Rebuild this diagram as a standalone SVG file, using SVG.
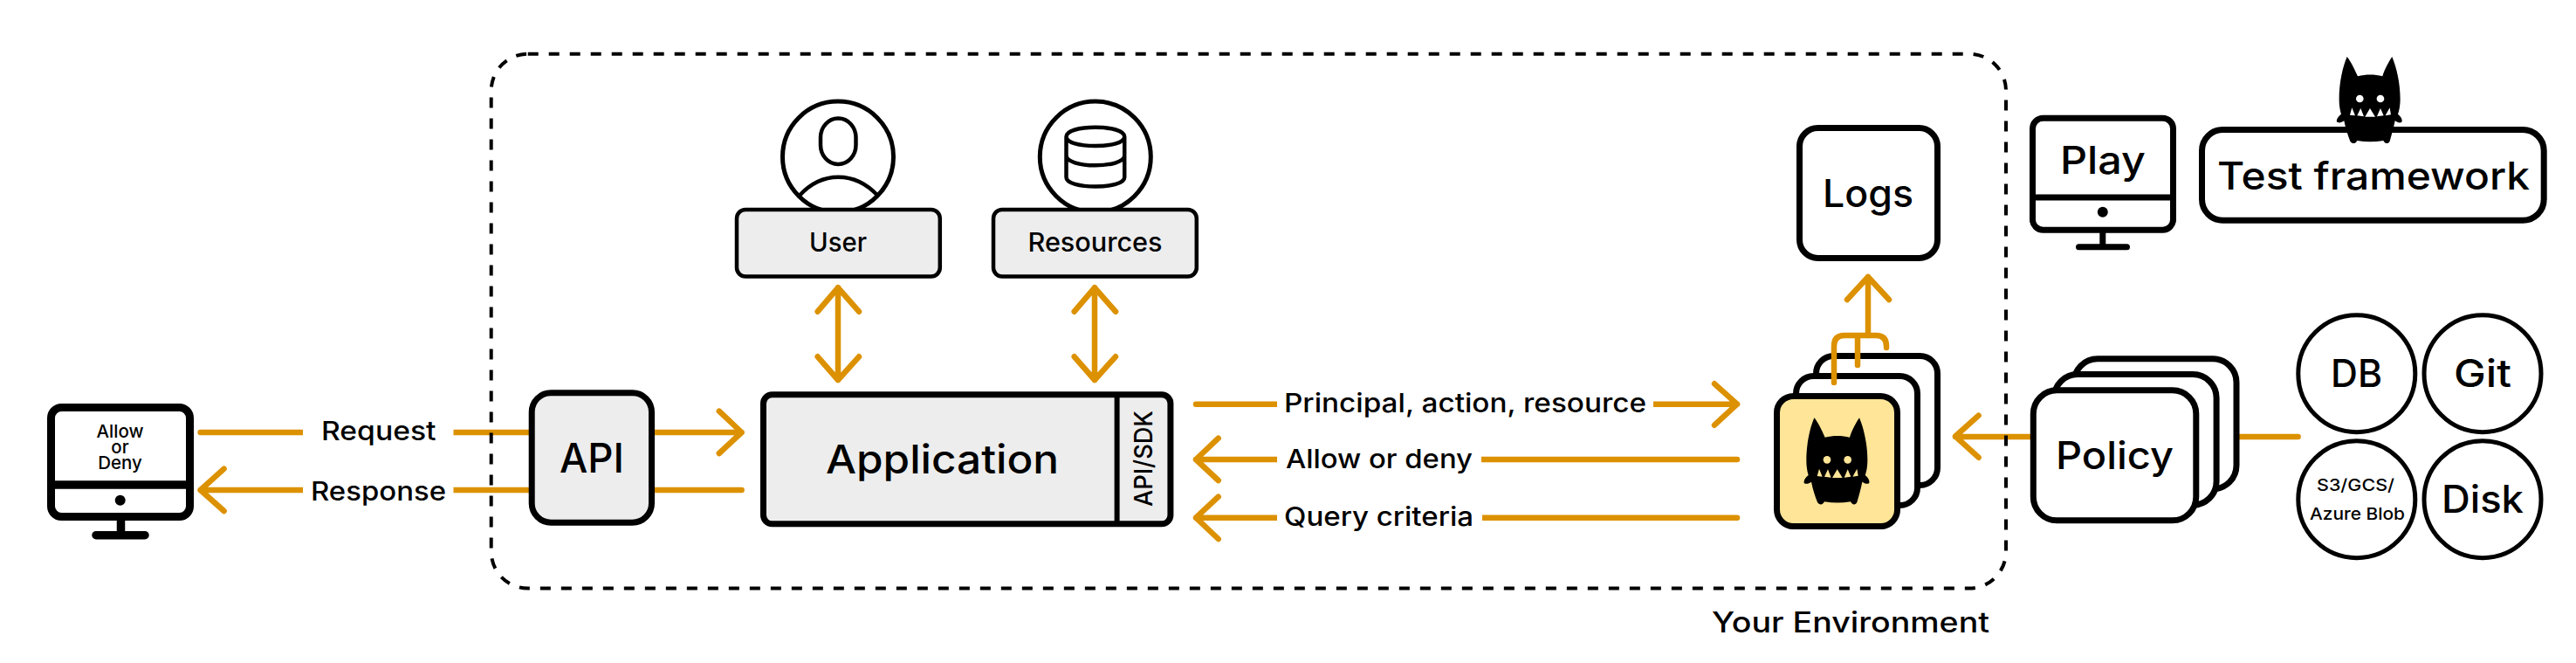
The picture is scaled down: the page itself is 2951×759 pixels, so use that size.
<svg xmlns="http://www.w3.org/2000/svg" xmlns:xlink="http://www.w3.org/1999/xlink" width="2951" height="759" viewBox="0 0 2951 759">
<style>
text{font-family:"Inter","Noto Sans","Liberation Sans",sans-serif;fill:#000;font-weight:500}
.flow{fill:none;stroke:#dc9100;stroke-width:6.5;stroke-linecap:round;stroke-linejoin:round}
.thick{fill:#fff;stroke:#000;stroke-width:7}
.thin{fill:#fff;stroke:#000;stroke-width:4.5}
.ring{fill:#fff;stroke:#000;stroke-width:5}
.grey{fill:#ededed}
.icon{fill:none;stroke:#000;stroke-width:4.5}
.gap{fill:#fff;stroke:none}
.t30{font-size:30px}
.t43{font-size:44px}
</style>
<defs>
<g id="monster-art">
<path fill="#000" d="M175 115C185 125 200 155 212 182C240 175 270 175 297 182C305 155 320 130 330 115C345 150 358 205 358 260C358 280 355 300 350 312C360 320 366 330 364 338C358 345 348 340 340 335C335 360 328 385 322 405C318 415 305 415 300 403C270 408 240 408 210 403C205 415 192 415 186 405C178 385 170 360 165 335C158 340 145 345 140 338C138 330 145 320 155 312C150 295 148 280 148 260C148 205 160 150 175 115Z"/>
<g fill="currentColor">
<circle cx="219" cy="259" r="13"/><circle cx="290" cy="259" r="13"/>
<path d="M185 315L192 290L203 317ZM210 317L222 292L233 320ZM237 321L254 292L272 321ZM278 320L290 292L301 317ZM307 317L322 290L326 314Z"/>
</g>
</g>
</defs>

<rect width="2951" height="759" fill="#fff"/>

<g id="policy-engine">
<rect class="thick" x="2080.5" y="407.5" width="139" height="148" rx="20"/>
<rect class="thick" x="2057.5" y="430.5" width="139" height="148" rx="20"/>
<rect class="thick" x="2035.5" y="453.5" width="138" height="149" rx="19" style="fill:#ffe597"/>
<use xlink:href="#monster-art" href="#monster-art" transform="translate(2020 440) scale(.33333)" color="#ffe597"/>
</g>

<g id="connectors">
<path class="flow" d="M229.6 495H605.6"/>
<path class="flow" d="M605.6 561H229.6M256.6 536.7L229.6 561L256.6 585"/>
<path class="flow" d="M750 495H849.6M823.8 470.7L849.6 495L823.8 519"/>
<path class="flow" d="M750 561H849.6"/>
<path class="flow" d="M960 329.3V435M936.7 356.7L960 329.3L984 356.7M936.7 408.3L960 435L984 408.3"/>
<path class="flow" d="M1254 329.3V435M1230.7 356.7L1254 329.3L1278 356.7M1230.7 408.3L1254 435L1278 408.3"/>
<path class="flow" d="M1370 462.7H1990M1964 439.3L1990 462.7L1964 486.7"/>
<path class="flow" d="M1990 526H1370M1395.7 501.7L1370 526L1395.7 550"/>
<path class="flow" d="M1990 592.7H1370M1395.7 568.7L1370 592.7L1395.7 617"/>
<path class="flow" d="M2140 384V317M2116 343L2140 317L2164 343"/>
<path class="flow" d="M2101 438V396Q2101 384 2113 384H2149Q2161 384 2161 396V398M2128 384V418"/>
<path class="flow" d="M2632.6 500H2240M2266.6 475.7L2240 499.5L2266.6 523.7"/>
<rect class="gap" x="347" y="480" width="172.5" height="100"/>
<rect class="gap" x="1463" y="450" width="431" height="24"/>
<rect class="gap" x="1463" y="514" width="234" height="24"/>
<rect class="gap" x="1463" y="581" width="235" height="24"/>
</g>

<rect id="your-environment" x="562.7" y="61.7" width="1735.3" height="611.8" rx="42" fill="none" stroke="#000" stroke-width="4" stroke-dasharray="12 12"/>
<text x="1961" y="724.3" font-size="32" textLength="318" lengthAdjust="spacingAndGlyphs">Your Environment</text>

<text class="t30" x="368" y="504.3" textLength="131.5" lengthAdjust="spacingAndGlyphs">Request</text>
<text class="t30" x="356" y="573.3" textLength="155" lengthAdjust="spacingAndGlyphs">Response</text>
<text class="t30" x="1471" y="472.3" textLength="415" lengthAdjust="spacingAndGlyphs">Principal, action, resource</text>
<text class="t30" x="1473" y="535.7" textLength="214" lengthAdjust="spacingAndGlyphs">Allow or deny</text>
<text class="t30" x="1471" y="602.3" textLength="217" lengthAdjust="spacingAndGlyphs">Query criteria</text>

<g id="client-monitor">
<rect x="58.5" y="466.5" width="159" height="125" rx="12" fill="#fff" stroke="#000" stroke-width="9"/>
<path d="M56 555H220" fill="none" stroke="#000" stroke-width="9.5"/>
<path d="M138.5 596V612.7M110 612.7H166" fill="none" stroke="#000" stroke-width="9.5" stroke-linecap="round"/>
<circle cx="137.7" cy="572.7" r="6"/>
<text font-size="20.5" text-anchor="middle"><tspan x="137.5" y="500.7">Allow</tspan><tspan x="137.5" y="518.6">or</tspan><tspan x="137.5" y="537">Deny</tspan></text>
</g>

<g id="api">
<rect class="thick grey" x="609.2" y="449.7" width="137.3" height="148.5" rx="22"/>
<text x="641" y="541" font-size="46.5" textLength="74" lengthAdjust="spacingAndGlyphs">API</text>
</g>

<g id="user">
<circle class="ring" cx="960" cy="179.6" r="63.5"/>
<rect class="icon" x="940" y="135.5" width="40.5" height="52.5" rx="20" ry="22"/>
<path class="icon" d="M915.7 224Q935 202.7 960.4 202.7T1005.6 224"/>
<rect class="thin grey" x="844" y="240" width="232.8" height="76.5" rx="10"/>
<text class="t30" x="927" y="288.3" textLength="66" lengthAdjust="spacingAndGlyphs">User</text>
</g>

<g id="resources">
<circle class="ring" cx="1254.8" cy="179.6" r="63.5"/>
<path class="icon" d="M1221.5 156.5C1221.5 149.5 1237 145.8 1254.8 145.8S1288.2 149.5 1288.2 156.5V203C1288.2 210 1272 213.5 1254.8 213.5S1221.5 210 1221.5 203ZM1221.5 156.5C1221.5 163.5 1237 167 1254.8 167S1288.2 163.5 1288.2 156.5M1221.5 178C1221.5 185 1237 189.3 1254.8 189.3S1288.2 185 1288.2 178"/>
<rect class="thin grey" x="1138" y="240" width="232.8" height="76.5" rx="10"/>
<text class="t30" x="1177.5" y="288.3" textLength="154" lengthAdjust="spacingAndGlyphs">Resources</text>
</g>

<g id="application">
<rect class="thick grey" x="874.5" y="451.8" width="466.4" height="148" rx="10"/>
<path d="M1279.6 450V602" stroke="#000" stroke-width="6"/>
<text x="946" y="541.7" font-size="45" textLength="267" lengthAdjust="spacingAndGlyphs">Application</text>
<text transform="translate(1320 580) rotate(-90)" font-size="29" textLength="110" lengthAdjust="spacingAndGlyphs">API/SDK</text>
</g>

<g id="logs">
<rect class="thick" x="2061.5" y="146.5" width="158" height="149" rx="21"/>
<text class="t43" x="2088" y="237" textLength="104" lengthAdjust="spacingAndGlyphs">Logs</text>
</g>

<g id="play">
<rect class="thick" x="2328.5" y="135.2" width="161" height="128" rx="12"/>
<path d="M2327 226H2491" fill="none" stroke="#000" stroke-width="7"/>
<path d="M2408.8 266V282.7M2381.5 282.7H2436.5" fill="none" stroke="#000" stroke-width="7" stroke-linecap="round"/>
<circle cx="2408.8" cy="242.7" r="6"/>
<text class="t43" x="2360" y="199" textLength="98" lengthAdjust="spacingAndGlyphs">Play</text>
</g>

<g id="test-framework">
<rect class="thick" x="2522.5" y="148.5" width="391.7" height="103.7" rx="24"/>
<use xlink:href="#monster-art" href="#monster-art" transform="translate(2630.3 26.7) scale(.33333)" color="#fff"/>
<text class="t43" x="2540" y="216.7" textLength="358" lengthAdjust="spacingAndGlyphs">Test framework</text>
</g>

<g id="policy">
<rect class="thick" x="2375.9" y="410.8" width="186.1" height="149" rx="27"/>
<rect class="thick" x="2353.1" y="428.5" width="186" height="149.7" rx="27"/>
<rect class="thick" x="2329.3" y="446.8" width="186.5" height="149" rx="27"/>
<text class="t43" x="2355" y="536.7" textLength="135" lengthAdjust="spacingAndGlyphs">Policy</text>
</g>

<g id="db">
<circle class="ring" cx="2699.8" cy="427.7" r="67"/>
<text class="t43" x="2670" y="443.3" textLength="59" lengthAdjust="spacingAndGlyphs">DB</text>
</g>
<g id="git">
<circle class="ring" cx="2844" cy="427.7" r="67"/>
<text class="t43" x="2811" y="443.3" textLength="66" lengthAdjust="spacingAndGlyphs">Git</text>
</g>
<g id="blob">
<circle class="ring" cx="2699.8" cy="571.7" r="67"/>
<text x="2654" y="562.3" font-size="19" textLength="89" lengthAdjust="spacingAndGlyphs">S3/GCS/</text>
<text x="2646" y="595" font-size="19" textLength="109" lengthAdjust="spacingAndGlyphs">Azure Blob</text>
</g>
<g id="disk">
<circle class="ring" cx="2844" cy="571.7" r="67"/>
<text class="t43" x="2797" y="587.3" textLength="94" lengthAdjust="spacingAndGlyphs">Disk</text>
</g>
</svg>
